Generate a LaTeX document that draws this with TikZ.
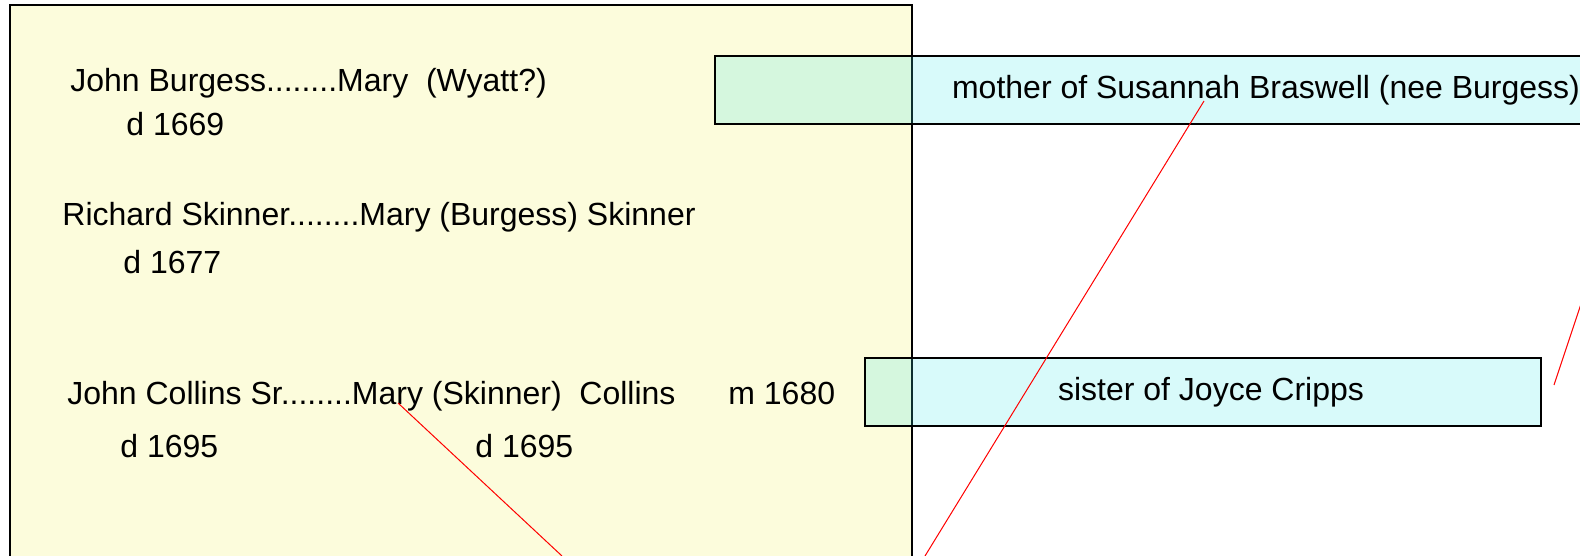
\documentclass[tikz,border=0pt]{standalone}
\usepackage{fontspec}
\setmainfont{Liberation Sans}
\usepackage{xcolor}
\usetikzlibrary{positioning}

\definecolor{panelyellow}{RGB}{252,252,220}
\definecolor{notecyan}{RGB}{60,230,230}

\begin{document}
\begin{tikzpicture}[x=0.5pt, y=-0.5pt, line join=miter,
  every node/.style={font=\fontsize{16}{19}\selectfont, inner sep=0pt},
  personline/.style={anchor=base west},
  notebox/.style={draw, line width=0.7pt, fill=notecyan, fill opacity=0.2, text opacity=1, minimum height=34pt},
  link/.style={red, line width=0.5pt}]
\useasboundingbox (0,0) rectangle (1580,556);
\clip (0,0) rectangle (1580,556);

% family panel
\fill[panelyellow] (10,5) rectangle (912,600);
\draw[line width=0.7pt] (10,600) -- (10,5) -- (912,5) -- (912,600);

\node[personline] (burgess) at (70,92) {John Burgess........Mary\ \ (Wyatt?)};
\node[personline] (burgessd) at (126,135) {d 1669};
\node[personline] (skinner) at (62,226) {Richard Skinner........Mary (Burgess) Skinner};
\node[personline] (skinnerd) at (123,273) {d 1677};
\node[personline] (collins) at (67,404) {John Collins Sr........Mary (Skinner)\ \ Collins};
\node[personline] (married) at (728,404) {m 1680};
\node[personline] (collinsd) at (120,457) {d 1695};
\node[personline] (maryd) at (475,457) {d 1695};

% notes
\node[notebox, minimum width=551pt] (mother) at (1266,90) {mother of Susannah Braswell (nee Burgess)};
\node[notebox, minimum width=338pt] (sister) at (1203,392) {\hspace{8pt}sister of Joyce Cripps};

\coordinate (maryy) at (398,403);
\coordinate (susannah) at (1204,101);
\coordinate (outB) at (562,556);
\coordinate (outA) at (925,556);
\coordinate (edgeC) at (1590,277);
\coordinate (endC) at (1554,385);

\draw[link] (maryy) -- (outB);
\draw[link] (susannah) -- (outA);
\draw[link] (edgeC) -- (endC);
\end{tikzpicture}
\end{document}
